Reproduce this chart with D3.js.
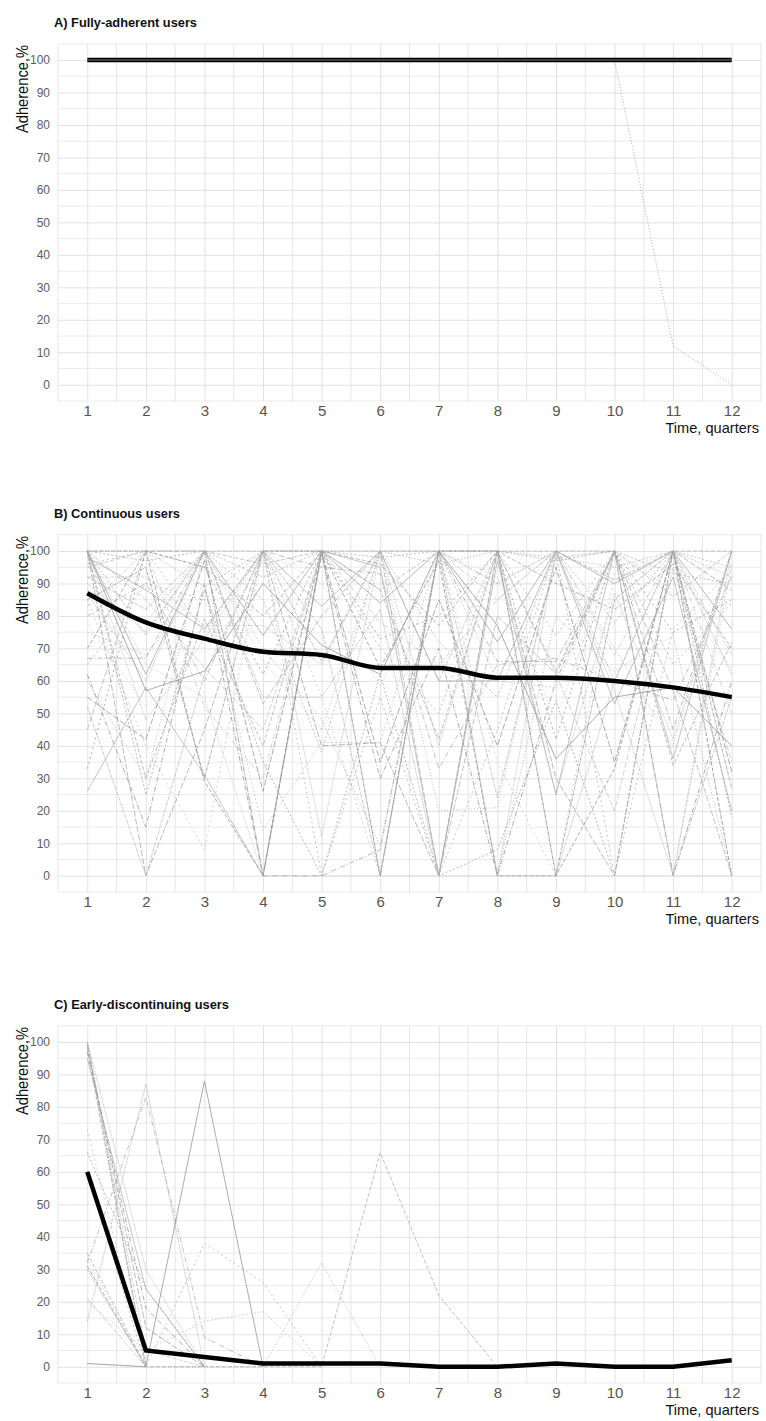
<!DOCTYPE html>
<html>
<script src='https://d3js.org/d3.v7.min.js'></script>
<style>
  html, body {
    margin: 0;
    background-color: #ffffff;
  }
  text {
    font-family: 'Liberation Sans', Arial, sans-serif;
  }
</style>
<body>
<div id="vis"></div>
</body>
<script>
// quarters on the x axis
var quarters = [1, 2, 3, 4, 5, 6, 7, 8, 9, 10, 11, 12];
var yTicks = [0, 10, 20, 30, 40, 50, 60, 70, 80, 90, 100];

var panelTitles = ['A) Fully-adherent users', 'B) Continuous users', 'C) Early-discontinuing users'];

// mean adherence per quarter (thick line)
var meanFull = [100, 100, 100, 100, 100, 100, 100, 100, 100, 100, 100, 100];
var meanCont = [87, 78, 73, 69, 68, 64, 64, 61, 61, 60, 58, 55];
var meanEarly = [60, 5, 3, 1, 1, 1, 0, 0, 1, 0, 0, 2];

// individual users, fully adherent
var fullUsers = [
  [100, 100, 100, 100, 100, 100, 100, 100, 100, 100, 100, 100],
  [100, 100, 100, 100, 100, 100, 100, 100, 100, 100, 12, 0]
];

// individual users, continuous
var contUsers = [
  [100, 97, 100, 92, 100, 98, 100, 100, 97, 100, 93, 90],
  [100, 100, 89, 100, 100, 100, 96, 100, 98, 95, 100, 92],
  [95, 100, 100, 96, 100, 88, 100, 100, 100, 91, 100, 100],
  [92, 92, 77, 77, 65, 100, 100, 85, 100, 60, 100, 68],
  [100, 0, 45, 100, 40, 41, 0, 100, 30, 0, 100, 88],
  [87, 60, 100, 0, 100, 0, 100, 0, 100, 57, 0, 100],
  [62, 15, 90, 0, 99, 30, 70, 0, 60, 100, 0, 60],
  [26, 58, 31, 0, 100, 95, 0, 97, 25, 100, 36, 100],
  [85, 40, 8, 100, 55, 0, 100, 35, 0, 93, 100, 0],
  [100, 25, 88, 35, 0, 62, 0, 8, 54, 0, 100, 18],
  [60, 30, 100, 66, 45, 100, 20, 21, 100, 70, 40, 100],
  [70, 100, 29, 0, 100, 64, 97, 0, 0, 33, 100, 0],
  [52, 0, 62, 100, 76, 0, 100, 24, 98, 100, 0, 55],
  [100, 85, 64, 45, 100, 100, 60, 100, 62, 20, 95, 35],
  [90, 75, 100, 55, 55, 82, 0, 100, 0, 60, 100, 62],
  [80, 90, 60, 100, 95, 93, 33, 65, 67, 60, 54, 92],
  [100, 57, 63, 90, 71, 62, 100, 77, 36, 55, 58, 40],
  [96, 100, 75, 100, 0, 55, 0, 45, 100, 0, 76, 94],
  [75, 68, 90, 14, 41, 41, 100, 60, 58, 100, 0, 96],
  [88, 78, 100, 70, 48, 9, 100, 0, 80, 63, 74, 0],
  [100, 30, 79, 40, 100, 88, 42, 100, 63, 100, 34, 72],
  [85, 95, 30, 100, 100, 0, 100, 100, 0, 85, 100, 27],
  [45, 100, 100, 53, 80, 100, 0, 80, 62, 100, 57, 0],
  [100, 65, 55, 0, 0, 0, 0, 0, 0, 0, 0, 0],
  [67, 67, 100, 0, 0, 8, 100, 66, 66, 100, 45, 100],
  [98, 88, 76, 100, 83, 100, 60, 60, 100, 53, 92, 20],
  [33, 100, 95, 62, 100, 73, 80, 100, 42, 100, 75, 85],
  [100, 74, 100, 85, 38, 100, 72, 55, 100, 78, 100, 95],
  [78, 52, 70, 100, 90, 58, 100, 92, 48, 100, 88, 64],
  [100, 100, 95, 80, 100, 96, 77, 100, 90, 82, 96, 70],
  [92, 82, 100, 100, 66, 100, 100, 90, 100, 100, 86, 100],
  [55, 42, 97, 26, 100, 35, 85, 40, 95, 35, 100, 32],
  [100, 48, 73, 100, 12, 100, 40, 100, 25, 87, 42, 100],
  [83, 100, 52, 30, 100, 78, 65, 85, 100, 68, 100, 50],
  [100, 62, 100, 74, 100, 84, 100, 72, 100, 90, 100, 76],
  [65, 90, 85, 100, 100, 70, 50, 100, 74, 100, 65, 84]
];

// individual users, early discontinuing (null after stop)
var earlyUsers = [
  [100, 0, null, null, null, null, null, null, null, null, null, null],
  [100, 0, null, null, null, null, null, null, null, null, null, null],
  [98, 0, null, null, null, null, null, null, null, null, null, null],
  [100, 5, 0, null, null, null, null, null, null, null, null, null],
  [99, 12, 0, null, null, null, null, null, null, null, null, null],
  [100, 30, 0, null, null, null, null, null, null, null, null, null],
  [97, 18, 0, null, null, null, null, null, null, null, null, null],
  [95, 24, 0, null, null, null, null, null, null, null, null, null],
  [73, 0, null, null, null, null, null, null, null, null, null, null],
  [66, 24, 0, null, null, null, null, null, null, null, null, null],
  [33, 0, null, null, null, null, null, null, null, null, null, null],
  [31, 0, null, null, null, null, null, null, null, null, null, null],
  [30, 0, null, null, null, null, null, null, null, null, null, null],
  [21, 0, null, null, null, null, null, null, null, null, null, null],
  [14, 87, 0, null, null, null, null, null, null, null, null, null],
  [32, 83, 9, 0, null, null, null, null, null, null, null, null],
  [1, 0, 88, 0, null, null, null, null, null, null, null, null],
  [60, 0, 38, 26, 0, null, null, null, null, null, null, null],
  [20, 5, 14, 17, 0, null, null, null, null, null, null, null],
  [1, 0, 0, 0, 32, 0, null, null, null, null, null, null],
  [35, 0, 0, 0, 0, 66, 22, 0, null, null, null, null]
];

var dashes = ['2,2', '1,2', '4,2', '3,1,1,1', '6,2', '1,1', '5,2,1,2', 'none', '2,3'];
var greys = ['#a6a6a6', '#8a8a8a', '#acacac', '#c0c0c0', '#9c9c9c'];

var width = 766;
var height = 1421;
var panelStep = 491;

var svg = d3.select('#vis')
    .append('svg')
    .attr('width', width)
    .attr('height', height);

var x_scale = d3.scaleLinear()
    .domain([0.5, 12.5])
    .range([58, 761]);

function drawPanel(i, users, mean, doubleMean, curve) {
    var off = i * panelStep;
    var g = svg.append('g').attr('transform', 'translate(0,' + off + ')');

    var y_scale = d3.scaleLinear()
        .domain([-5, 105])
        .range([401, 43.75]);

    // minor grid
    var minorY = d3.range(-5, 106, 10);
    var minorX = d3.range(0.5, 12.6, 1);
    g.append('g')
        .attr('class', 'grid')
        .selectAll('line.hy')
        .data(minorY)
        .enter()
        .append('line')
        .attr('x1', 58).attr('x2', 761)
        .attr('y1', function(d) { return y_scale(d); })
        .attr('y2', function(d) { return y_scale(d); })
        .attr('stroke', '#ebebeb').attr('stroke-width', 1);
    g.append('g')
        .selectAll('line.vx')
        .data(minorX)
        .enter()
        .append('line')
        .attr('y1', y_scale(-5)).attr('y2', y_scale(105))
        .attr('x1', function(d) { return x_scale(d); })
        .attr('x2', function(d) { return x_scale(d); })
        .attr('stroke', '#e6e6e6').attr('stroke-width', 1);

    // major grid through axes
    g.append('g')
        .attr('transform', 'translate(58,0)')
        .call(d3.axisLeft(y_scale).tickValues(yTicks).tickSize(-703).tickFormat(''))
        .call(function(a) {
            a.select('.domain').remove();
            a.selectAll('line').attr('stroke', '#e2e2e2');
        });
    g.append('g')
        .attr('transform', 'translate(0,' + y_scale(-5) + ')')
        .call(d3.axisBottom(x_scale).tickValues(quarters).tickSize(-357.25).tickFormat(''))
        .call(function(a) {
            a.select('.domain').remove();
            a.selectAll('line').attr('stroke', '#e2e2e2');
        });

    // tick labels
    g.append('g')
        .attr('transform', 'translate(52,0)')
        .call(d3.axisLeft(y_scale).tickValues(yTicks).tickSize(0).tickPadding(2))
        .call(function(a) {
            a.select('.domain').remove();
            a.selectAll('text')
                .attr('fill', '#5c5c5c')
                .style('font-size', '12px')
                .style('font-family', "'Liberation Sans', Arial, sans-serif");
        });
    g.append('g')
        .attr('transform', 'translate(0,' + (y_scale(-5) + 2) + ')')
        .call(d3.axisBottom(x_scale).tickValues(quarters).tickSize(0).tickPadding(2))
        .call(function(a) {
            a.select('.domain').remove();
            a.selectAll('text')
                .attr('fill', '#5a534d')
                .style('font-size', '15px')
                .style('font-family', "'Liberation Sans', Arial, sans-serif");
        });

    var line = d3.line()
        .defined(function(d) { return d != null; })
        .x(function(d, j) { return x_scale(quarters[j]); })
        .y(function(d) { return y_scale(d); });

    var meanLine = d3.line()
        .x(function(d, j) { return x_scale(quarters[j]); })
        .y(function(d) { return y_scale(d); })
        .curve(curve);

    g.append('g')
        .selectAll('path.user')
        .data(users)
        .enter()
        .append('path')
        .attr('class', 'user')
        .attr('d', line)
        .attr('fill', 'none')
        .attr('stroke', function(d, j) { return greys[j % greys.length]; })
        .attr('stroke-width', 0.7)
        .attr('stroke-dasharray', function(d, j) { return dashes[j % dashes.length]; });

    g.append('path')
        .datum(mean)
        .attr('d', meanLine)
        .attr('fill', 'none')
        .attr('stroke', '#000')
        .attr('stroke-width', 4.5);

    if (doubleMean) {
        g.append('path')
            .datum(mean)
            .attr('d', meanLine)
            .attr('fill', 'none')
            .attr('stroke', '#8a8a8a')
            .attr('stroke-width', 0.9);
    }

    // titles
    g.append('text')
        .attr('x', 54)
        .attr('y', 27)
        .attr('textLength', [143, 126, 175][i])
        .attr('lengthAdjust', 'spacingAndGlyphs')
        .style('font-size', '13px')
        .style('font-weight', 'bold')
        .attr('fill', '#111')
        .text(panelTitles[i]);

    g.append('text')
        .attr('transform', 'translate(28,89) rotate(-90)')
        .attr('text-anchor', 'middle')
        .attr('textLength', 88)
        .attr('lengthAdjust', 'spacingAndGlyphs')
        .style('font-size', '16px')
        .attr('fill', '#111')
        .text('Adherence,%');

    g.append('text')
        .attr('x', 759)
        .attr('y', 433)
        .attr('text-anchor', 'end')
        .style('font-size', '14.6px')
        .attr('fill', '#111')
        .text('Time, quarters');
}

drawPanel(0, fullUsers, meanFull, true, d3.curveLinear);
drawPanel(1, contUsers, meanCont, false, d3.curveMonotoneX);
drawPanel(2, earlyUsers, meanEarly, false, d3.curveLinear);
</script>
</html>
